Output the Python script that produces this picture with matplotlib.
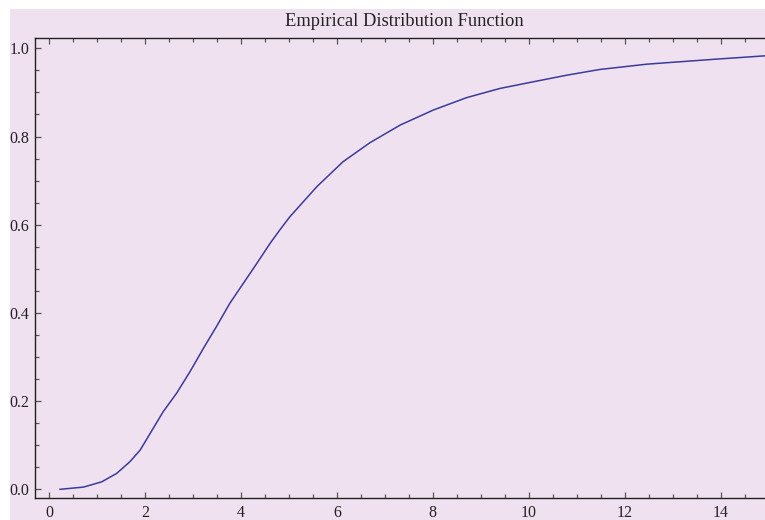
import matplotlib
matplotlib.use("Agg")
import matplotlib.pyplot as plt
from matplotlib.patches import Rectangle
from matplotlib.ticker import MultipleLocator, FixedLocator

# Empirical CDF readings
x_vals = [0.23, 0.72, 1.10, 1.41, 1.69, 1.90, 2.11, 2.38, 2.66, 2.94, 3.22,
          3.49, 3.77, 4.05, 4.33, 4.61, 4.81, 5.02, 5.58, 6.13, 6.69, 7.32,
          8.01, 8.70, 9.40, 10.09, 10.79, 11.48, 12.46, 13.85, 14.93, 15.20]
cdf_vals = [0.000, 0.005, 0.017, 0.036, 0.063, 0.089, 0.127, 0.176, 0.218,
            0.267, 0.320, 0.369, 0.422, 0.467, 0.512, 0.558, 0.588, 0.618,
            0.686, 0.743, 0.786, 0.826, 0.860, 0.888, 0.909, 0.924, 0.939,
            0.952, 0.964, 0.975, 0.983, 0.985]

x_ticks = [0, 2, 4, 6, 8, 10, 12, 14]
y_ticks = [0.0, 0.2, 0.4, 0.6, 0.8, 1.0]
y_tick_labels = ["0.0", "0.2", "0.4", "0.6", "0.8", "1.0"]
title = "Empirical Distribution Function"

BG = "#efe1f0"
LINE = "#3b3b9c"

plt.rcParams["font.family"] = ["Liberation Serif", "DejaVu Serif"]

W, H = 765, 520
fig = plt.figure(figsize=(W / 100, H / 100), dpi=100, facecolor="white")
fig.patches.append(Rectangle((10 / W, 0), 1, 1 - 9 / H, transform=fig.transFigure,
                             facecolor=BG, edgecolor="none", zorder=-10))

left_px, right_px, top_px, bottom_px = 35, 775, 38, 498
ax = fig.add_axes([left_px / W, 1 - bottom_px / H,
                   (right_px - left_px) / W, (bottom_px - top_px) / H])
ax.set_facecolor(BG)

# pixel-to-data calibration: x=0 at px 49, 47.98 px per unit; y=0 at px 489.3, 441 px per unit
ax.set_xlim((left_px - 49) / 47.98, (right_px - 49) / 47.98)
ax.set_ylim((489.3 - bottom_px) / 441, (489.3 - top_px) / 441)

ax.plot(x_vals, cdf_vals, color=LINE, lw=1.1, solid_joinstyle="round")

ax.xaxis.set_major_locator(FixedLocator(x_ticks))
ax.xaxis.set_minor_locator(MultipleLocator(0.5))
ax.yaxis.set_major_locator(FixedLocator(y_ticks))
ax.yaxis.set_minor_locator(MultipleLocator(0.05))
ax.set_xticklabels([str(t) for t in x_ticks])
ax.set_yticklabels(y_tick_labels)

ax.tick_params(which="both", direction="in", top=True, right=True,
               color="#555555", width=0.9, labelsize=11.5, labelcolor="#222222")
ax.tick_params(which="major", length=4.5)
ax.tick_params(which="minor", length=2.6)
ax.tick_params(axis="x", pad=5)
ax.tick_params(axis="y", pad=4)

for s in ax.spines.values():
    s.set_color("#222222")
    s.set_linewidth(1.0)

fig.text(404 / W, 1 - 21 / H, title, ha="center", va="center",
         fontsize=13.3, color="#222222")

fig.savefig("out.png", dpi=100, facecolor=fig.get_facecolor())
